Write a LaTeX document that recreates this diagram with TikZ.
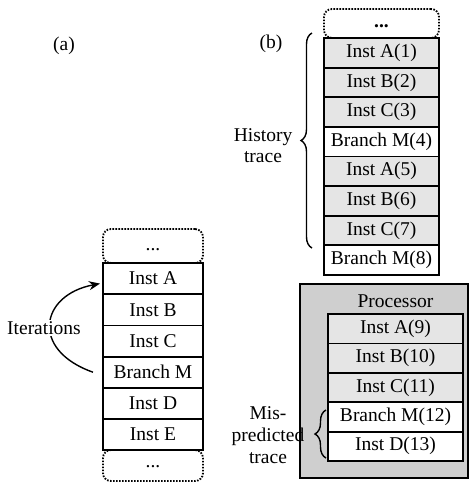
\documentclass[tikz,border=0pt]{standalone}
\usepackage{fontspec}
\setmainfont{Liberation Serif}
\usetikzlibrary{arrows.meta,decorations.pathreplacing}
\begin{document}
\begin{tikzpicture}[x=1pt,y=-1pt,
  txt/.style={font=\fontsize{19.5}{21}\selectfont, inner sep=0pt, outer sep=0pt},
  cellA/.style={txt, draw, line width=1.8pt, fill=white, minimum width=100, minimum height=31.2},
  cellB/.style={txt, draw, line width=1.8pt, fill=white, minimum width=115, minimum height=29.6},
  cellC/.style={txt, draw, line width=1.8pt, fill=white, minimum width=135, minimum height=29.4},
  shaded/.style={fill=black!10},
  dotbox/.style={txt, draw, line width=1.8pt, dash pattern=on 1.6pt off 1.4pt, rounded corners=8pt},
  brc/.style={decorate, decoration={brace, amplitude=11pt}, line width=1.4pt}]
\useasboundingbox (0,0) rectangle (469,483);
% (a)
\node[txt] (la) at (64,46) {(a)};
\node[dotbox, minimum width=100, minimum height=34] (dta) at (153,246) {};
\node[txt] (dtatxt) at (153,250) {...};
\node[dotbox, minimum width=100, minimum height=31] (dba) at (153,465.5) {};
\node[txt] (dbatxt) at (153,467) {...};
\node[cellA] (ia) at (153,278.6) {Inst A};
\node[cellA] (ib) at (153,309.8) {Inst B};
\node[cellA] (ic) at (153,341.0) {Inst C};
\node[cellA] (bm) at (153,372.2) {Branch M};
\node[cellA] (id) at (153,403.4) {Inst D};
\node[cellA] (ie) at (153,434.6) {Inst E};
\draw[line width=1.4pt, -{Stealth[length=11pt,width=9pt]}] ([xshift=-10pt]bm.west) .. controls (30,350) and (40,295) .. ([xshift=-3pt,yshift=-5pt]ia.west);
\node[txt, fill=white, inner sep=1pt] (iter) at (44,328) {Iterations};
% (b)
\node[txt] (lb) at (271,44) {(b)};
\node[dotbox, minimum width=115, minimum height=29] (dtb) at (381.5,23.5) {};
\node[txt] (dtbtxt) at (381.5,26) {\textbf{...}};
\node[cellB, shaded] (b1) at (381.5,52.8) {Inst A(1)};
\node[cellB, shaded] (b2) at (381.5,82.4) {Inst B(2)};
\node[cellB, shaded] (b3) at (381.5,112.0) {Inst C(3)};
\node[cellB] (b4) at (381.5,141.6) {Branch M(4)};
\node[cellB, shaded] (b5) at (381.5,171.2) {Inst A(5)};
\node[cellB, shaded] (b6) at (381.5,200.8) {Inst B(6)};
\node[cellB, shaded] (b7) at (381.5,230.4) {Inst C(7)};
\node[cellB] (b8) at (381.5,260.0) {Branch M(8)};
\coordinate (hb1) at (312,248);
\coordinate (hb2) at (312,33);
\draw[brc] (hb1) -- (hb2);
\node[txt, align=center] (hist) at (263,146) {History\\trace};
% processor
\node[draw, line width=1.8pt, fill=black!19, minimum width=168, minimum height=194, inner sep=0pt] (proc) at (384,381) {};
\node[txt] (proct) at (395.5,301) {Processor};
\node[cellC, shaded] (p9) at (395.5,328.7) {Inst A(9)};
\node[cellC, shaded] (p10) at (395.5,358.1) {Inst B(10)};
\node[cellC, shaded] (p11) at (395.5,387.5) {Inst C(11)};
\node[cellC] (p12) at (395.5,416.9) {Branch M(12)};
\node[cellC] (p13) at (395.5,446.3) {Inst D(13)};
\coordinate (mb1) at (326,458);
\coordinate (mb2) at (326,410);
\draw[brc] (mb1) -- (mb2);
\node[txt, align=center, font=\fontsize{19.5}{22}\selectfont] (mis) at (268,435) {Mis-\\predicted\\trace};
\end{tikzpicture}
\end{document}
